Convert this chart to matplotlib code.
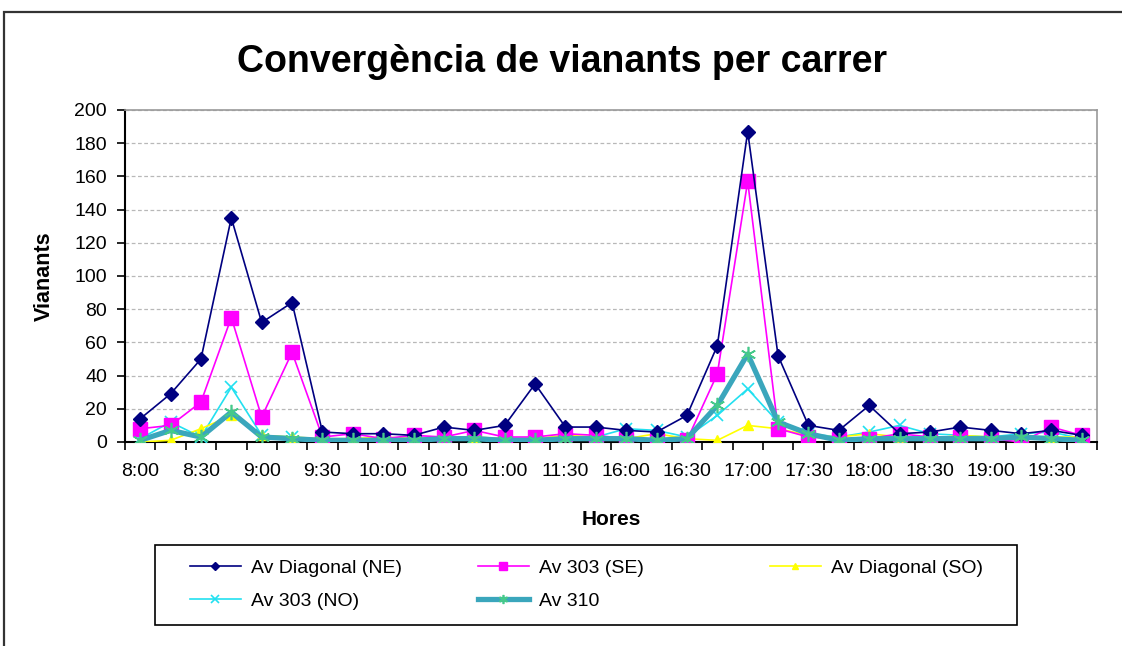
import matplotlib
matplotlib.use("Agg")

import numpy as np
import matplotlib.pyplot as plt
import matplotlib.patches as patches

plt.rcParams["font.family"] = ["Liberation Sans", "DejaVu Sans"]

# =======================
# Data
# =======================

hores = ["8:00", "8:15", "8:30", "8:45", "9:00", "9:15", "9:30", "9:45",
         "10:00", "10:15", "10:30", "10:45", "11:00", "11:15", "11:30", "11:45",
         "16:00", "16:15", "16:30", "16:45", "17:00", "17:15", "17:30", "17:45",
         "18:00", "18:15", "18:30", "18:45", "19:00", "19:15", "19:30", "19:45"]

diagonal_ne = [14, 29, 50, 135, 72, 84, 6, 5, 5, 4, 9, 7, 10, 35, 9, 9,
               7, 6, 16, 58, 187, 52, 10, 7, 22, 5, 6, 9, 7, 5, 7, 4]
av303_se = [8, 10, 24, 75, 15, 54, 3, 5, 2, 4, 3, 7, 3, 3, 5, 4,
            2, 1, 1, 41, 157, 8, 3, 2, 2, 5, 3, 3, 2, 0, 9, 4]
diagonal_so = [0, 1, 8, 16, 4, 3, 2, 2, 3, 2, 3, 3, 2, 2, 4, 3,
               2, 5, 2, 1, 10, 8, 4, 3, 5, 3, 2, 4, 3, 2, 3, 3]
av303_no = [2, 12, 3, 33, 4, 3, 1, 2, 2, 3, 2, 3, 2, 2, 3, 3,
            8, 7, 3, 16, 32, 12, 5, 3, 6, 10, 5, 4, 3, 5, 6, 2]
av310 = [1, 7, 3, 18, 3, 2, 1, 1, 1, 1, 2, 2, 1, 1, 2, 2,
         2, 1, 2, 22, 53, 12, 5, 1, 2, 2, 2, 2, 2, 3, 2, 1]

# =======================
# Figure
# =======================

W, H = 1122, 646
fig = plt.figure(figsize=(W / 100, H / 100), dpi=100)
fig.patch.set_facecolor("white")

# outer chart frame (partly cut by the image edge)
fig.add_artist(patches.Rectangle((4 / W, -0.05), 1.1, 1 - 12 / H + 0.05,
                                 transform=fig.transFigure, fill=False,
                                 edgecolor="#333333", lw=1.6, zorder=0))

ax = fig.add_axes([125 / W, 1 - 442 / H, 972 / W, 332 / H])
x = np.arange(len(hores))

asterisk = (6, 2, 0)
l_ne, = ax.plot(x, diagonal_ne, color="#000080", lw=1.2, marker="D", ms=7,
                label="Av Diagonal (NE)", zorder=6)
l_se, = ax.plot(x, av303_se, color="#FF00FF", lw=1.2, marker="s", ms=10,
                label="Av 303 (SE)", zorder=5)
l_so, = ax.plot(x, diagonal_so, color="#FFFF00", lw=1.2, marker="^", ms=7,
                label="Av Diagonal (SO)", zorder=4)
l_no, = ax.plot(x, av303_no, color="#22E0F0", lw=1.2, marker="x", ms=9, mew=1.2,
                label="Av 303 (NO)", zorder=3)
l_310, = ax.plot(x, av310, color="#3AA6BC", lw=3.8, marker=asterisk, ms=11, mew=1.2,
                 mec="#45C98A", label="Av 310", zorder=7)

# axes styling (Excel-like)
ax.set_xlim(-0.5, len(hores) - 0.5)
ax.set_ylim(0, 200)
ax.set_yticks(np.arange(0, 201, 20))
ax.yaxis.grid(True, color="#b8b8b8", ls=(0, (3, 2)), lw=0.9)
ax.set_axisbelow(True)

ax.set_xticks(x[::2])
ax.set_xticklabels(hores[::2], fontsize=14)
ax.set_xticks(np.arange(-0.5, len(hores), 1), minor=True)
ax.tick_params(axis="x", which="major", length=0, pad=15)
ax.tick_params(axis="x", which="minor", direction="out", length=6, width=1.2, color="black")
ax.tick_params(axis="y", direction="out", length=6, width=1.2, labelsize=14, pad=7)

for s in ["top", "right"]:
    ax.spines[s].set_color("#999999")
    ax.spines[s].set_linewidth(1.2)
for s in ["left", "bottom"]:
    ax.spines[s].set_color("black")
    ax.spines[s].set_linewidth(1.5)

ax.set_ylabel("Vianants", fontsize=15.5, fontweight="bold", labelpad=14)
ax.set_xlabel("Hores", fontsize=15, fontweight="bold", labelpad=22)

fig.text(562 / W, 1 - 62 / H, "Convergència de vianants per carrer",
         ha="center", va="center", fontsize=27, fontweight="bold")

# =======================
# Legend (Excel style: equal-width columns, drawn as two groups + frame)
# =======================

fig.add_artist(patches.Rectangle((155 / W, 1 - 625 / H), 862 / W, 80 / H,
                                 transform=fig.transFigure, fill=False,
                                 edgecolor="black", lw=1.2))

leg_kw = dict(loc="upper left", fontsize=14, frameon=False, borderpad=0,
              borderaxespad=0, handlelength=2.6, handletextpad=0.55,
              markerscale=0.6, labelspacing=0.8)

left_handles = [l_ne, l_no, l_se, l_310]
leg1 = fig.legend(handles=left_handles, labels=[h.get_label() for h in left_handles],
                  ncol=2, columnspacing=3.9,
                  bbox_to_anchor=(190 / W, 1 - 559 / H), **leg_kw)
leg2 = fig.legend(handles=[l_so], labels=[l_so.get_label()],
                  bbox_to_anchor=(770 / W, 1 - 559 / H), **leg_kw)

fig.savefig("out.png", dpi=100, facecolor="white")
plt.close(fig)
